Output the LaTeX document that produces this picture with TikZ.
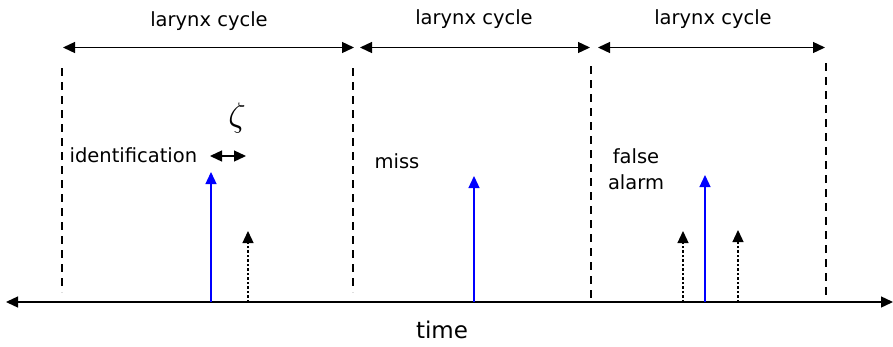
\documentclass[tikz,border=0pt]{standalone}
\usepackage{fontspec}
\setmainfont{DejaVu Sans}
\usetikzlibrary{arrows.meta}

\begin{document}
\begin{tikzpicture}[x=1pt, y=-1pt, line width=1.3pt,
  >={Triangle[length=12pt,width=11pt]},
  lbl/.style={font=\fontsize{19.5}{26}\selectfont, inner sep=0pt, align=center},
  bound/.style={dash pattern=on 8pt off 6pt, line width=1.2pt},
  cand/.style={->, dash pattern=on 2.5pt off 2pt},
  voiced/.style={->, blue}]
\useasboundingbox (0,0) rectangle (893,346);
% time axis
\coordinate (t0) at (6,302);
\coordinate (t1) at (893,302);
\draw[<->] (t0) -- (t1);
\node[lbl, anchor=base, font=\fontsize{23}{26}\selectfont] (time) at (442,338) {time};
% cycle boundaries
\foreach \b/\x/\ya/\yb in {b0/62/68/292, b1/353/68/292, b2/591/66/300, b3/826/63/298} {
  \coordinate (\b a) at (\x,\ya);
  \coordinate (\b b) at (\x,\yb);
  \draw[bound] (\b a) -- (\b b);
}
% cycles
\foreach \c/\xa/\xb/\xm/\yl in {c1/63/354/209/26, c2/360/590/474/24, c3/598/825/713/24} {
  \coordinate (\c l) at (\xa,47.5);
  \coordinate (\c r) at (\xb,47.5);
  \draw[<->] (\c l) -- (\c r);
  \node[lbl, anchor=base] (\c txt) at (\xm,\yl) {larynx cycle};
}
% detections
\foreach \e/\x/\y in {v1/211/172, v2/474/176, v3/705/175} {
  \coordinate (\e b) at (\x,302);
  \coordinate (\e t) at (\x,\y);
  \draw[voiced] (\e b) -- (\e t);
}
\foreach \e/\x/\y in {d1/248/231, d2/683/231, d3/738/230} {
  \coordinate (\e b) at (\x,302);
  \coordinate (\e t) at (\x,\y);
  \draw[cand] (\e b) -- (\e t);
}
% tolerance
\coordinate (z0) at (210,156);
\coordinate (z1) at (246,156);
\draw[<->] (z0) -- (z1);
\node[inner sep=0pt, font=\normalsize] (zeta) at (237,118) {\scalebox{3.4}{$\zeta$}};
\node[lbl, anchor=base west] (ident) at (69,162) {identification};
\node[lbl, anchor=base west] (miss) at (374,168) {miss};
\node[lbl] (false) at (636,169) {false\\alarm};
\end{tikzpicture}
\end{document}
